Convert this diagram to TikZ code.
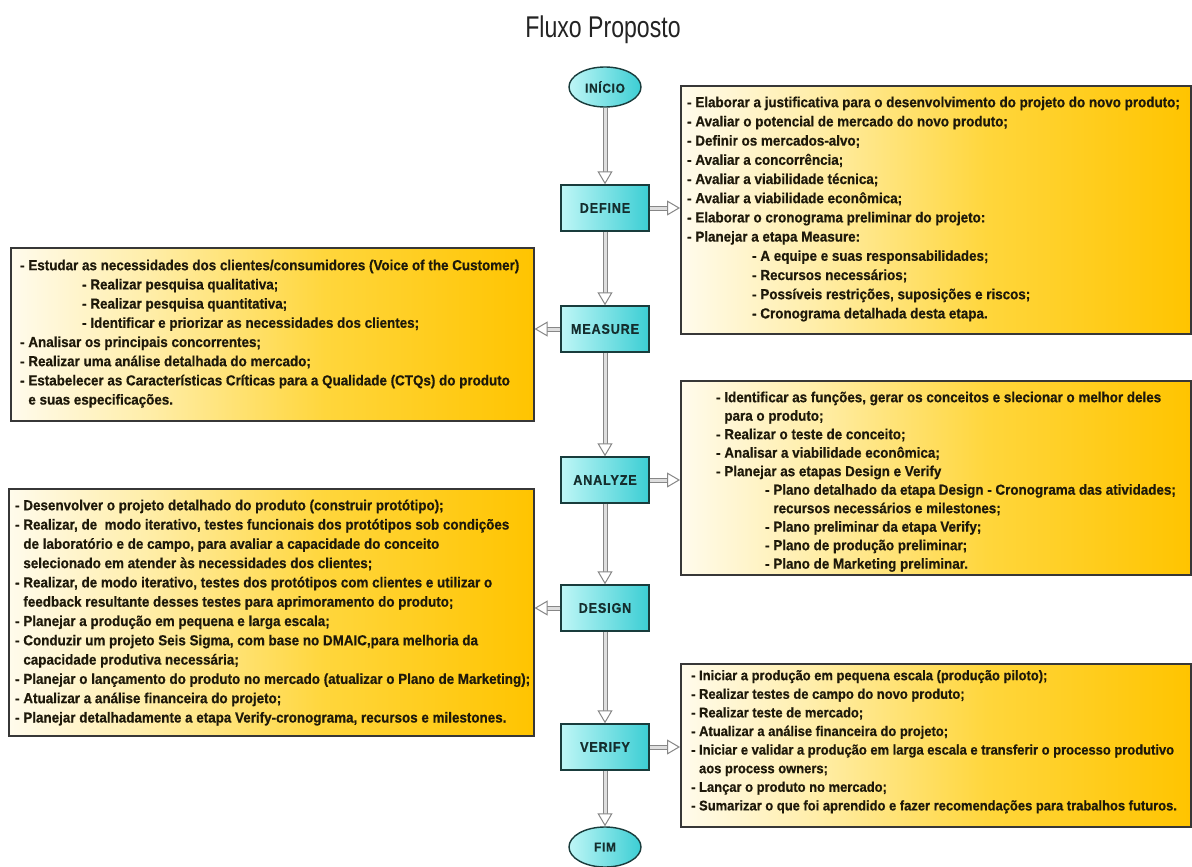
\documentclass[tikz,border=0pt]{standalone}
\usepackage{fontspec}
\usetikzlibrary{arrows.meta,shapes.geometric}
\setmainfont{Liberation Sans}
\newfontfamily\listfont[FakeStretch=0.925,FakeBold=0.6]{Liberation Sans}
\newfontfamily\stagefont[LetterSpace=6,FakeStretch=0.9,FakeBold=0.6]{Liberation Sans}
\newfontfamily\titlefont[FakeStretch=0.77]{Liberation Sans}

\definecolor{cream}{RGB}{255,251,236}
\definecolor{paleyel}{RGB}{255,238,170}
\definecolor{midgold}{RGB}{255,214,60}
\definecolor{gold}{RGB}{255,196,0}
\definecolor{cyanlight}{RGB}{190,246,246}
\definecolor{cyandark}{RGB}{60,206,212}
\definecolor{stageline}{RGB}{25,60,60}
\definecolor{stagetext}{RGB}{20,45,45}
\definecolor{flowgray}{RGB}{135,135,135}
\definecolor{flowfill}{RGB}{222,222,222}
\definecolor{boxline}{RGB}{55,55,55}
\definecolor{ink}{RGB}{30,25,10}

\pgfdeclarehorizontalshading{goldfade}{100bp}{%
  color(0bp)=(cream); color(25bp)=(cream); color(38bp)=(paleyel);
  color(55bp)=(midgold); color(75bp)=(gold); color(100bp)=(gold)}

\newcommand{\firstline}{\rule{0pt}{13pt}}
\newcommand{\cont}{\phantom{- }}

\tikzset{
  stagebox/.style={draw=stageline, line width=1.4pt, left color=cyanlight,
    right color=cyandark, minimum width=88pt, minimum height=46pt, inner sep=0pt,
    font=\stagefont\bfseries\fontsize{14}{16}\selectfont, text=stagetext},
  terminal/.style={ellipse, draw=stageline, line width=1.4pt, left color=cyanlight,
    right color=cyandark, minimum width=72pt, minimum height=40pt, inner sep=0pt,
    font=\stagefont\bfseries\fontsize{13}{15}\selectfont, text=stagetext},
  listbox/.style={draw=boxline, line width=1.6pt, shading=goldfade,
    anchor=north west, inner sep=0pt},
  listtext/.style={anchor=north west, inner sep=0pt, align=left, text=ink},
  flow/.style={draw=flowgray, line width=1pt, double=flowfill, double distance=3pt,
    -{Triangle[open, length=13pt, width=15pt, line width=1pt, fill=white]}}
}

\begin{document}
\begin{tikzpicture}[x=1pt, y=-1pt]
\useasboundingbox (0,0) rectangle (1192,867);
\fill[white] (0,0) rectangle (1192,867);

\node[font=\titlefont\fontsize{30}{32}\selectfont, text={rgb,255:red,35;green,35;blue,35}] (title) at (603,30) {Fluxo Proposto};

% stages of the flow
\node[terminal] (start) at (605,87) {INÍCIO};
\node[stagebox] (define) at (605,208) {DEFINE};
\node[stagebox] (measure) at (605,329) {MEASURE};
\node[stagebox] (analyze) at (605,480) {ANALYZE};
\node[stagebox] (design) at (605,608) {DESIGN};
\node[stagebox] (verify) at (605,747) {VERIFY};
\node[terminal] (finish) at (605,847) {FIM};

% activity lists
\node[listbox, minimum width=510pt, minimum height=248pt] (defbox) at (680,85) {};
\node[listbox, minimum width=523pt, minimum height=173pt] (measbox) at (10,247) {};
\node[listbox, minimum width=510pt, minimum height=194pt] (anabox) at (680,380) {};
\node[listbox, minimum width=525pt, minimum height=247pt] (desbox) at (8,488) {};
\node[listbox, minimum width=510pt, minimum height=163pt] (verbox) at (680,663) {};

\node[listtext, font=\listfont\bfseries\fontsize{14.5}{19.2}\selectfont] (deftext) at (687,94) {%
\firstline- Elaborar a justificativa para o desenvolvimento do projeto do novo produto;\\
- Avaliar o potencial de mercado do novo produto;\\
- Definir os mercados-alvo;\\
- Avaliar a concorrência;\\
- Avaliar a viabilidade técnica;\\
- Avaliar a viabilidade econômica;\\
- Elaborar o cronograma preliminar do projeto:\\
- Planejar a etapa Measure:\\
\hspace*{65pt}- A equipe e suas responsabilidades;\\
\hspace*{65pt}- Recursos necessários;\\
\hspace*{65pt}- Possíveis restrições, suposições e riscos;\\
\hspace*{65pt}- Cronograma detalhada desta etapa.};

\node[listtext, font=\listfont\bfseries\fontsize{14.5}{19.2}\selectfont] (meastext) at (20,257) {%
\firstline- Estudar as necessidades dos clientes/consumidores (Voice of the Customer)\\
\hspace*{62pt}- Realizar pesquisa qualitativa;\\
\hspace*{62pt}- Realizar pesquisa quantitativa;\\
\hspace*{62pt}- Identificar e priorizar as necessidades dos clientes;\\
- Analisar os principais concorrentes;\\
- Realizar uma análise detalhada do mercado;\\
- Estabelecer as Características Críticas para a Qualidade (CTQs) do produto\\
\cont e suas especificações.};

\node[listtext, font=\listfont\bfseries\fontsize{14.5}{18.5}\selectfont] (anatext) at (716,389) {%
\firstline- Identificar as funções, gerar os conceitos e slecionar o melhor deles\\
\cont para o produto;\\
- Realizar o teste de conceito;\\
- Analisar a viabilidade econômica;\\
- Planejar as etapas Design e Verify\\
\hspace*{49pt}- Plano detalhado da etapa Design - Cronograma das atividades;\\
\hspace*{49pt}\cont recursos necessários e milestones;\\
\hspace*{49pt}- Plano preliminar da etapa Verify;\\
\hspace*{49pt}- Plano de produção preliminar;\\
\hspace*{49pt}- Plano de Marketing preliminar.};

\node[listtext, font=\listfont\bfseries\fontsize{14.5}{19.3}\selectfont] (destext) at (15,497) {%
\firstline- Desenvolver o projeto detalhado do produto (construir protótipo);\\
- Realizar, de \ modo iterativo, testes funcionais dos protótipos sob condições\\
\cont de laboratório e de campo, para avaliar a capacidade do conceito\\
\cont selecionado em atender às necessidades dos clientes;\\
- Realizar, de modo iterativo, testes dos protótipos com clientes e utilizar o\\
\cont feedback resultante desses testes para aprimoramento do produto;\\
- Planejar a produção em pequena e larga escala;\\
- Conduzir um projeto Seis Sigma, com base no DMAIC,para melhoria da\\
\cont capacidade produtiva necessária;\\
- Planejar o lançamento do produto no mercado (atualizar o Plano de Marketing);\\
- Atualizar a análise financeira do projeto;\\
- Planejar detalhadamente a etapa Verify-cronograma, recursos e milestones.};

\node[listtext, font=\listfont\bfseries\fontsize{14}{18.6}\selectfont] (vertext) at (691,667) {%
\firstline- Iniciar a produção em pequena escala (produção piloto);\\
- Realizar testes de campo do novo produto;\\
- Realizar teste de mercado;\\
- Atualizar a análise financeira do projeto;\\
- Iniciar e validar a produção em larga escala e transferir o processo produtivo\\
\cont aos process owners;\\
- Lançar o produto no mercado;\\
- Sumarizar o que foi aprendido e fazer recomendações para trabalhos futuros.};

% main sequence
\draw[flow] (start) -- (define);
\draw[flow] (define) -- (measure);
\draw[flow] (measure) -- (analyze);
\draw[flow] (analyze) -- (design);
\draw[flow] (design) -- (verify);
\draw[flow] (verify) -- (finish);

% stage to activity list
\draw[flow] (define.east) -- (define.east -| defbox.west);
\draw[flow] (measure.west) -- (measure.west -| measbox.east);
\draw[flow] (analyze.east) -- (analyze.east -| anabox.west);
\draw[flow] (design.west) -- (design.west -| desbox.east);
\draw[flow] (verify.east) -- (verify.east -| verbox.west);
\end{tikzpicture}
\end{document}
